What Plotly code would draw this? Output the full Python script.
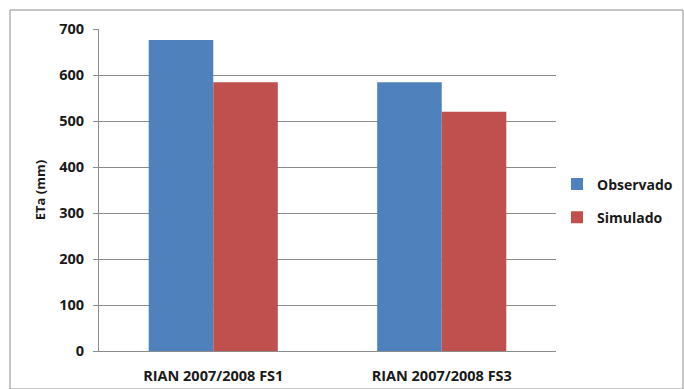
import plotly.graph_objects as go

categories = ["RIAN 2007/2008 FS1", "RIAN 2007/2008 FS3"]
observado = [676, 584]
simulado = [584, 520]
y_ticks = [0, 100, 200, 300, 400, 500, 600, 700]

font_family = "Open Sans, Liberation Sans, sans-serif"

fig = go.Figure()
fig.add_trace(go.Bar(name="Observado", x=categories, y=observado, legendgroup="obs",
                     marker=dict(color="#4F81BD", line=dict(width=0))))
fig.add_trace(go.Bar(name="Simulado", x=categories, y=simulado, legendgroup="sim",
                     marker=dict(color="#C0504D", line=dict(width=0))))

fig.update_layout(
    width=684, height=389,
    margin=dict(l=99, r=128, t=29, b=38, autoexpand=False),
    barmode="group", bargap=0.435, bargroupgap=0,
    plot_bgcolor="white", paper_bgcolor="white",
    font=dict(family=font_family, size=13, color="#1a1a1a"),
    showlegend=True,
    legend=dict(xref="container", yref="container",
                x=557 / 684, y=1 - 201 / 389, xanchor="left", yanchor="middle",
                font=dict(family=font_family, size=14, color="#1a1a1a", weight="bold"),
                itemwidth=30, tracegroupgap=12, bgcolor="rgba(0,0,0,0)"),
    yaxis=dict(range=[0, 700], tickvals=y_ticks, showgrid=True,
               gridcolor="#8c8c8c", gridwidth=1, showline=True, linecolor="#8c8c8c",
               ticks="outside", ticklen=5, tickcolor="#8c8c8c", ticklabelstandoff=6,
               tickfont=dict(family=font_family, size=14.5, weight="bold"),
               title=dict(text="ETa (mm)", standoff=10,
                          font=dict(family=font_family, size=13, weight="bold")),
               zeroline=False),
    xaxis=dict(showline=True, linecolor="#8c8c8c", ticks="", ticklabelstandoff=12,
               tickfont=dict(family=font_family, size=14.5, weight="bold")),
)

# outer chart frame
fig.add_shape(type="rect", xref="paper", yref="paper",
              x0=(10 - 99) / 457, x1=(683 - 99) / 457,
              y0=(351 - 389) / 322, y1=(351 - 10) / 322,
              line=dict(color="#8c8c8c", width=1), layer="below")

fig.write_html("out.html")
